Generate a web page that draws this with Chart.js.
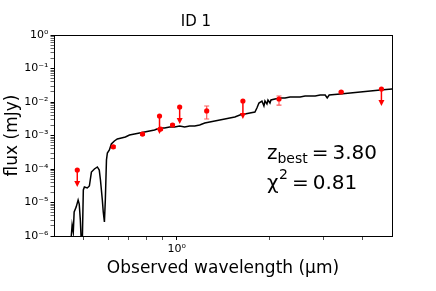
<!DOCTYPE html>
<html>
<head>
<meta charset="utf-8">
<script src="https://cdn.jsdelivr.net/npm/chart.js@4.4.1/dist/chart.umd.min.js"></script>
<style>
  html, body { margin: 0; padding: 0; background: #ffffff; }
  #wrap { width: 436px; height: 291px; }
</style>
</head>
<body>
<div id="wrap"><canvas id="c" width="436" height="291"></canvas></div>
<script>
// ---- Data ----
const chartTitle = 'ID 1';
const xAxisTitle = 'Observed wavelength (\u00b5m)';
const yAxisTitle = 'flux (mJy)';

// Best-fit model spectrum (wavelength in µm, flux in mJy)
const modelWave = [0.448,0.455,0.458,0.462,0.465,0.472,0.479,0.483,0.487,0.491,0.494,0.498,0.502,0.513,0.521,0.529,0.541,0.553,0.561,0.566,0.574,0.578,0.583,0.587,0.592,0.596,0.605,0.614,0.628,0.642,0.662,0.682,0.703,0.730,0.758,0.787,0.817,0.848,0.880,0.914,0.949,0.985,1.023,1.062,1.102,1.145,1.188,1.234,1.281,1.330,1.381,1.434,1.488,1.545,1.604,1.665,1.729,1.795,1.822,1.850,1.892,1.920,1.935,1.964,1.979,2.009,2.024,2.085,2.165,2.248,2.334,2.424,2.516,2.612,2.713,2.816,2.924,3.035,3.081,3.127,3.396,3.660,3.946,4.253,4.584,5.015];
const modelFlux = [7.6e-7,9.5e-7,2.13e-6,1.32e-6,5.2e-6,7.3e-6,1.19e-5,9.0e-6,3.0e-6,5.4e-7,5.4e-7,2.36e-5,2.9e-5,2.71e-5,3.11e-5,8.1e-5,1.0e-4,1.15e-4,9.3e-5,4.7e-5,1.19e-5,5.2e-6,2.62e-6,1.19e-5,1.86e-4,3.0e-4,3.69e-4,5.57e-4,6.85e-4,7.87e-4,8.42e-4,9.02e-4,1.035e-3,1.109e-3,1.188e-3,1.272e-3,1.362e-3,1.459e-3,1.675e-3,1.675e-3,1.794e-3,1.794e-3,1.922e-3,1.794e-3,1.922e-3,1.922e-3,2.058e-3,2.36e-3,2.53e-3,2.71e-3,2.90e-3,3.11e-3,3.33e-3,3.57e-3,4.09e-3,4.38e-3,4.69e-3,5.03e-3,6.62e-3,9.33e-3,1.07e-2,7.6e-3,1.07e-2,8.72e-3,1.148e-2,9.33e-3,1.148e-2,1.23e-2,1.316e-2,1.316e-2,1.41e-2,1.41e-2,1.41e-2,1.51e-2,1.51e-2,1.51e-2,1.62e-2,1.62e-2,1.316e-2,1.62e-2,1.73e-2,1.86e-2,1.99e-2,2.13e-2,2.28e-2,2.44e-2];

// Photometric detections with error bars
const detWave  = [0.623, 0.775, 0.887, 0.970, 1.252, 2.149, 3.42];
const detFlux  = [4.6e-4, 1.1e-3, 1.56e-3, 2.06e-3, 5.4e-3, 1.23e-2, 1.99e-2];
const detLow   = [4.2e-4, 1.0e-3, 1.45e-3, 1.9e-3, 3.11e-3, 8.1e-3, 1.9e-2];
const detHigh  = [5.0e-4, 1.2e-3, 1.68e-3, 2.2e-3, 7.6e-3, 1.51e-2, 2.08e-2];

// Upper limits (arrow from the limit down to arrowTo)
const ulWave    = [0.476, 0.880, 1.023, 1.641, 4.62];
const ulFlux    = [9.3e-5, 3.82e-3, 7.1e-3, 1.07e-2, 2.44e-2];
const ulArrowTo = [3.11e-5, 1.19e-3, 2.36e-3, 3.33e-3, 8.13e-3];

// Axis ticks
const xMin = 0.4, xMax = 5.0;
const yMin = 1e-6, yMax = 1;
const xTickValues = [0.5, 0.6, 0.7, 0.8, 0.9, 1, 2, 3, 4];
const xLabelled = [1];
const yDecades = [1e-6, 1e-5, 1e-4, 1e-3, 1e-2, 1e-1, 1];
const yMinorMult = [2, 3, 4, 5, 6, 7, 8, 9];

// Fit results text
const zBest = '3.80';
const chi2 = '0.81';

// ---- Helpers ----
const SUP = {'0':'\u2070','1':'\u00b9','2':'\u00b2','3':'\u00b3','4':'\u2074','5':'\u2075','6':'\u2076','7':'\u2077','8':'\u2078','9':'\u2079','-':'\u207b'};
function powLabel(v) {
  const e = Math.round(Math.log10(v));
  return '10' + String(e).split('').map(c => SUP[c]).join('');
}
const FONT = "'DejaVu Sans', 'Liberation Sans', sans-serif";

const yTickValues = [];
yDecades.forEach(d => {
  yTickValues.push(d);
  if (d < yMax) yMinorMult.forEach(m => yTickValues.push(d * m));
});
const isDecade = (v) => yDecades.some(d => Math.abs(d - v) / d < 1e-6);

const frame = {
  id: 'frame',
  afterDatasetsDraw(chart) {
    const a = chart.chartArea, ctx = chart.ctx;
    ctx.save();
    ctx.strokeStyle = '#000';
    ctx.lineWidth = 1;
    ctx.strokeRect(Math.round(a.left) + 0.5, Math.round(a.top) + 0.5, Math.round(a.right - a.left), Math.round(a.bottom - a.top));
    ctx.restore();
  }
};

const errorBars = {
  id: 'errorBars',
  afterDatasetsDraw(chart) {
    const xs = chart.scales.x, ys = chart.scales.y, ctx = chart.ctx;
    ctx.save();
    ctx.strokeStyle = 'rgba(255,0,0,0.65)';
    ctx.lineWidth = 1.2;
    detWave.forEach((w, i) => {
      const px = xs.getPixelForValue(w);
      const y1 = ys.getPixelForValue(detLow[i]);
      const y2 = ys.getPixelForValue(detHigh[i]);
      ctx.beginPath();
      ctx.moveTo(px, y1); ctx.lineTo(px, y2);
      ctx.moveTo(px - 2.5, y1); ctx.lineTo(px + 2.5, y1);
      ctx.moveTo(px - 2.5, y2); ctx.lineTo(px + 2.5, y2);
      ctx.stroke();
    });
    ctx.strokeStyle = '#ff0000';
    ctx.fillStyle = '#ff0000';
    ctx.lineWidth = 1.5;
    ulWave.forEach((w, i) => {
      const px = xs.getPixelForValue(w);
      const y1 = ys.getPixelForValue(ulFlux[i]);
      const y2 = ys.getPixelForValue(ulArrowTo[i]);
      ctx.beginPath();
      ctx.moveTo(px, y1); ctx.lineTo(px, y2 - 3);
      ctx.stroke();
      ctx.beginPath();
      ctx.moveTo(px - 3, y2 - 5);
      ctx.lineTo(px + 3, y2 - 5);
      ctx.lineTo(px, y2 + 1);
      ctx.closePath();
      ctx.fill();
    });
    ctx.restore();
  }
};

const fitText = {
  id: 'fitText',
  afterDraw(chart) {
    const ctx = chart.ctx;
    const a = chart.chartArea;
    const x0 = a.left + (a.right - a.left) * 0.630;
    const b1 = a.top + (a.bottom - a.top) * 0.619;
    const b2 = a.top + (a.bottom - a.top) * 0.764;
    ctx.save();
    ctx.fillStyle = '#000';
    ctx.textBaseline = 'alphabetic';
    ctx.textAlign = 'left';
    const big = '20px ' + FONT, small = '14px ' + FONT;
    let x = x0;
    ctx.font = big; ctx.fillText('z', x, b1); x += ctx.measureText('z').width;
    ctx.font = small; ctx.fillText('best', x, b1 + 3.5); x += ctx.measureText('best').width + 4;
    ctx.font = big; ctx.fillText('=', x, b1); x += ctx.measureText('=').width + 4;
    ctx.fillText(zBest, x, b1);
    x = x0;
    ctx.font = big; ctx.fillText('\u03c7', x, b2); x += ctx.measureText('\u03c7').width + 0.5;
    ctx.font = small; ctx.fillText('2', x, b2 - 10); x += ctx.measureText('2').width + 4;
    ctx.font = big; ctx.fillText('=', x, b2); x += ctx.measureText('=').width + 4;
    ctx.fillText(chi2, x, b2);
    ctx.restore();
  }
};

new Chart(document.getElementById('c'), {
  type: 'line',
  data: {
    datasets: [
      {
        label: 'model',
        data: modelWave.map((w, i) => ({x: w, y: modelFlux[i]})),
        borderColor: '#000',
        borderWidth: 1.5,
        pointRadius: 0,
        tension: 0,
        fill: false,
        order: 2
      },
      {
        label: 'detections',
        data: detWave.map((w, i) => ({x: w, y: detFlux[i]})),
        showLine: false,
        pointRadius: 2.6,
        pointStyle: 'circle',
        backgroundColor: '#ff0000',
        borderColor: '#ff0000',
        borderWidth: 0,
        order: 1
      },
      {
        label: 'upper limits',
        data: ulWave.map((w, i) => ({x: w, y: ulFlux[i]})),
        showLine: false,
        pointRadius: 2.6,
        pointStyle: 'circle',
        backgroundColor: '#ff0000',
        borderColor: '#ff0000',
        borderWidth: 0,
        order: 1
      }
    ]
  },
  options: {
    responsive: false,
    animation: false,
    devicePixelRatio: 1,
    layout: { padding: { left: 0, right: 44, top: 0, bottom: 0 } },
    plugins: {
      legend: { display: false },
      tooltip: { enabled: false },
      title: {
        display: true,
        text: chartTitle,
        color: '#000',
        font: { family: FONT, size: 15, weight: 'normal' },
        padding: { top: 13.5, bottom: 3.5 }
      }
    },
    scales: {
      x: {
        type: 'logarithmic',
        min: xMin, max: xMax,
        afterBuildTicks(scale) { scale.ticks = xTickValues.map(v => ({value: v, major: xLabelled.includes(v)})); },
        afterFit(scale) { scale.height = 55; },
        ticks: {
          autoSkip: false, maxRotation: 0, color: '#000', padding: 3,
          font: { family: FONT, size: 11 },
          callback: (v) => xLabelled.includes(v) ? powLabel(v) : ''
        },
        grid: { drawOnChartArea: false, drawTicks: true, tickLength: 4, tickColor: '#000',
                tickWidth: (c) => (c.tick && xLabelled.includes(c.tick.value)) ? 1 : 0.7 },
        border: { display: true, color: '#000', width: 1 },
        title: { display: true, text: xAxisTitle, color: '#000', font: { family: FONT, size: 17 }, padding: { top: 0, bottom: 12 } }
      },
      y: {
        type: 'logarithmic',
        min: yMin, max: yMax,
        afterBuildTicks(scale) { scale.ticks = yTickValues.map(v => ({value: v, major: isDecade(v)})); },
        afterFit(scale) { scale.width = 54; },
        ticks: {
          autoSkip: false, color: '#000', padding: 2,
          font: { family: FONT, size: 11 },
          callback: (v) => isDecade(v) ? powLabel(v) : ''
        },
        grid: { drawOnChartArea: false, drawTicks: true, tickLength: 3.5, tickColor: '#000',
                tickWidth: (c) => (c.tick && isDecade(c.tick.value)) ? 1 : 0.6 },
        border: { display: true, color: '#000', width: 1 },
        title: { display: true, text: yAxisTitle, color: '#000', font: { family: FONT, size: 17 }, padding: { top: 2, bottom: 0 } }
      }
    }
  },
  plugins: [frame, errorBars, fitText]
});
</script>
</body>
</html>
